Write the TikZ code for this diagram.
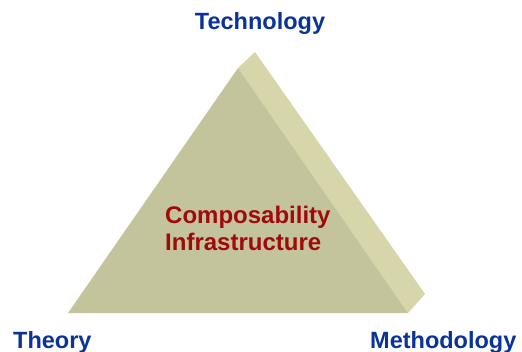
\documentclass[tikz,border=0pt]{standalone}
\usepackage{fontspec}
\setmainfont{Liberation Sans}
\definecolor{faceFront}{HTML}{C4C49C}
\definecolor{faceSide}{HTML}{D6D6AA}
\definecolor{cornerBlue}{HTML}{0A3399}
\definecolor{centreRed}{HTML}{A00A0A}
\begin{document}
\begin{tikzpicture}[x=1pt,y=-1pt,
    corner/.style={font=\fontsize{23.5}{26}\selectfont\bfseries,text=cornerBlue,inner sep=0pt},
    centre/.style={font=\fontsize{24}{26}\selectfont\bfseries,text=centreRed,inner sep=0pt,anchor=base west}]
  \useasboundingbox (0,0) rectangle (522,351);
  % side face, then front face
  \fill[faceSide] (238,68) -- (255,52) -- (425,294) -- (408,313) -- cycle;
  \fill[faceFront] (238,68) -- (408,313) -- (68,313) -- cycle;
  \node[corner,anchor=base] (tech) at (260,29) {Technology};
  \node[corner,anchor=base west] (theory) at (13,348) {Theory};
  \node[corner,anchor=base west] (meth) at (370,348) {Methodology};
  \node[centre] (comp) at (165,223) {Composability};
  \node[centre] (infra) at (165,250) {Infrastructure};
\end{tikzpicture}
\end{document}
